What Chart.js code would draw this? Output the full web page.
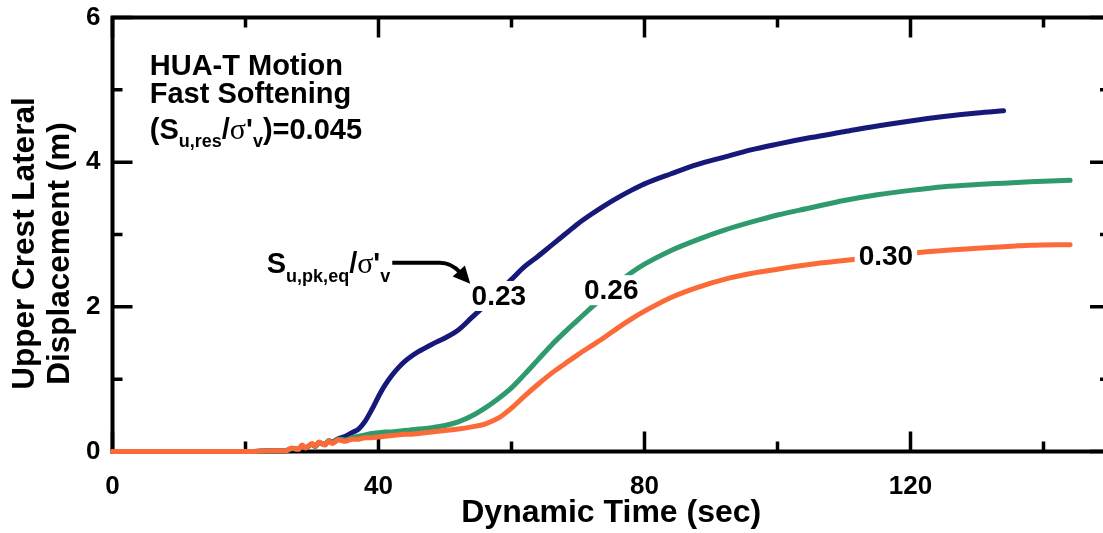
<!DOCTYPE html>
<html>
<head>
<meta charset="utf-8">
<title>Upper Crest Lateral Displacement</title>
<script src="https://cdn.jsdelivr.net/npm/chart.js@4"></script>
<style>
  body { margin: 0; background: #fff; overflow: hidden; }
  #wrap { width: 1103px; height: 533px; overflow: hidden; }
</style>
</head>
<body>
<div id="wrap"><canvas id="dispChart" width="1125" height="533"></canvas></div>
<script>
// dynamic time (sec)
const time = [0, 10, 20, 24, 26, 27, 28, 28.5, 29, 30, 30.5, 31, 32, 32.5, 33, 34, 35, 36, 37, 38,
  39, 40, 41, 42, 43, 44, 45, 46, 48, 50, 52, 54, 56, 58, 60, 62, 64, 66, 68, 70,
  72, 74, 76, 78, 80, 84, 88, 92, 96, 100, 105, 110, 115, 120, 125, 130, 134, 138, 144];

// upper crest lateral displacement (m) for each Su,pk,eq/σ'v
const disp023 = [0, 0, 0, 0.01, 0.01, 0.04, 0.03, 0.08, 0.05, 0.10, 0.07, 0.12, 0.10, 0.15, 0.13, 0.18, 0.21, 0.26, 0.31, 0.42,
  0.58, 0.76, 0.92, 1.05, 1.16, 1.25, 1.32, 1.38, 1.48, 1.57, 1.68, 1.85, 2.02, 2.20, 2.38, 2.56, 2.70, 2.85, 3.00, 3.15,
  3.28, 3.40, 3.51, 3.61, 3.70, 3.84, 3.97, 4.07, 4.17, 4.25, 4.34, 4.42, 4.50, 4.57, 4.63, 4.68, 4.71, null, null];
const disp026 = [0, 0, 0, 0.01, 0.01, 0.04, 0.03, 0.08, 0.05, 0.10, 0.07, 0.12, 0.10, 0.15, 0.12, 0.17, 0.16, 0.19, 0.21, 0.23,
  0.25, 0.26, 0.27, 0.27, 0.28, 0.29, 0.30, 0.31, 0.33, 0.36, 0.41, 0.49, 0.60, 0.73, 0.88, 1.07, 1.27, 1.47, 1.65, 1.82,
  1.99, 2.15, 2.32, 2.47, 2.59, 2.78, 2.93, 3.06, 3.17, 3.27, 3.37, 3.47, 3.55, 3.61, 3.66, 3.69, 3.71, 3.73, 3.75];
const disp030 = [0, 0, 0, 0.01, 0.01, 0.05, 0.03, 0.09, 0.05, 0.11, 0.07, 0.13, 0.09, 0.15, 0.11, 0.16, 0.14, 0.17, 0.17, 0.19,
  0.19, 0.20, 0.21, 0.22, 0.23, 0.24, 0.24, 0.25, 0.27, 0.29, 0.31, 0.34, 0.38, 0.46, 0.60, 0.77, 0.93, 1.08, 1.21, 1.34,
  1.46, 1.58, 1.71, 1.83, 1.94, 2.13, 2.27, 2.38, 2.46, 2.52, 2.59, 2.64, 2.69, 2.74, 2.78, 2.81, 2.83, 2.85, 2.86];

const seriesNames = ['0.23', '0.26', '0.30'];
const seriesValues = [disp023, disp026, disp030];
const seriesColors = ['#17197a', '#2f9a6b', '#fc6a38'];
// where each ratio label sits on its curve [time, displacement]
const seriesLabelAt = [[58.1, 2.15], [75.0, 2.23], [116.3, 2.70]];

const xMajorTicks = [0, 40, 80, 120];
const xMinorTicks = [20, 60, 100, 140];
const yMajorTicks = [0, 2, 4, 6];
const yMinorTicks = [1, 3, 5];
const yTitleLines = ['Upper Crest Lateral', 'Displacement (m)'];

const FAMILY = '"Liberation Sans", Arial, Helvetica, sans-serif';
const boldFont = size => `bold ${size}px ${FAMILY}`;
const sigmaFont = size => `${size}px "Liberation Serif", "Times New Roman", serif`;

// draw a run of text pieces side by side, some dropped as subscripts
function drawRuns(ctx, x, y, runs) {
  ctx.textBaseline = 'alphabetic';
  ctx.textAlign = 'left';
  for (const r of runs) {
    ctx.font = r.font;
    ctx.fillText(r.text, x, y + (r.dy || 0));
    x += ctx.measureText(r.text).width + (r.gap || 0);
  }
  return x;
}

const framePlugin = {
  id: 'frame',
  beforeDatasetsDraw(chart) {
    const { ctx, chartArea: a, scales: { x, y } } = chart;
    ctx.save();
    ctx.strokeStyle = '#000';
    ctx.lineWidth = 4;
    ctx.strokeRect(a.left, a.top, a.right - a.left, a.bottom - a.top);
    ctx.lineWidth = 3.5;
    ctx.beginPath();
    const xTicks = (vals, len) => vals.forEach(v => {
      const px = x.getPixelForValue(v);
      ctx.moveTo(px, a.bottom); ctx.lineTo(px, a.bottom - len);
      ctx.moveTo(px, a.top); ctx.lineTo(px, a.top + len);
    });
    const yTicks = (vals, len) => vals.forEach(v => {
      const py = y.getPixelForValue(v);
      ctx.moveTo(a.left, py); ctx.lineTo(a.left + len, py);
      ctx.moveTo(a.right, py); ctx.lineTo(a.right - len, py);
    });
    xTicks(xMajorTicks, 20); xTicks(xMinorTicks, 10);
    yTicks(yMajorTicks, 20); yTicks(yMinorTicks, 10);
    ctx.stroke();
    ctx.restore();
  }
};

const notePlugin = {
  id: 'notes',
  afterDatasetsDraw(chart) {
    const { ctx, chartArea: a, scales: { x, y } } = chart;
    const px = v => x.getPixelForValue(v);
    const py = v => y.getPixelForValue(v);
    ctx.save();
    ctx.fillStyle = '#000';

    // ratio labels break their curves
    ctx.font = boldFont(28);
    seriesNames.forEach((name, i) => {
      const cx = px(seriesLabelAt[i][0]);
      const cy = py(seriesLabelAt[i][1]);
      const w = ctx.measureText(name).width + 8;
      ctx.fillStyle = '#fff';
      ctx.fillRect(cx - w / 2, cy - 15, w, 30);
      ctx.fillStyle = '#000';
      ctx.textAlign = 'center';
      ctx.textBaseline = 'middle';
      ctx.fillText(name, cx, cy + 1);
    });

    // motion / softening note
    const left = px(5.6);
    ctx.textAlign = 'left';
    ctx.textBaseline = 'alphabetic';
    ctx.font = boldFont(29);
    ctx.fillText('HUA-T Motion', left, py(5.21));
    ctx.fillText('Fast Softening', left, py(4.82));
    drawRuns(ctx, left, py(4.32), [
      { text: '(S', font: boldFont(29) },
      { text: 'u,res', font: boldFont(18), dy: 8 },
      { text: '/', font: boldFont(29) },
      { text: 'σ', font: sigmaFont(30) },
      { text: '\'', font: boldFont(29) },
      { text: 'v', font: boldFont(18), dy: 8 },
      { text: ')=0.045', font: boldFont(29) }
    ]);

    // Su,pk,eq/σ'v label with its arrow
    const end = drawRuns(ctx, px(23.2), py(2.47), [
      { text: 'S', font: boldFont(29) },
      { text: 'u,pk,eq', font: boldFont(18), dy: 9 },
      { text: '/', font: boldFont(29) },
      { text: 'σ', font: sigmaFont(30) },
      { text: '\'', font: boldFont(29) },
      { text: 'v', font: boldFont(18), dy: 9 }
    ]);
    const ax0 = end + 2, ay0 = py(2.61);
    const ax1 = px(49.2);
    const tipX = px(53.8), tipY = py(2.32);
    ctx.strokeStyle = '#000';
    ctx.lineWidth = 4;
    ctx.beginPath();
    ctx.moveTo(ax0, ay0);
    ctx.lineTo(ax1, ay0);
    ctx.quadraticCurveTo(ax1 + 12, ay0, tipX - 10, tipY - 11);
    ctx.stroke();
    const ang = Math.atan2(11, 10);
    ctx.beginPath();
    ctx.moveTo(tipX, tipY);
    ctx.lineTo(tipX - 19 * Math.cos(ang - 0.45), tipY - 19 * Math.sin(ang - 0.45));
    ctx.lineTo(tipX - 19 * Math.cos(ang + 0.45), tipY - 19 * Math.sin(ang + 0.45));
    ctx.closePath();
    ctx.fill();

    // y axis title, two rotated lines
    ctx.font = boldFont(31.5);
    ctx.textAlign = 'center';
    ctx.textBaseline = 'alphabetic';
    const yMid = (a.top + a.bottom) / 2;
    [[34, yMid + 9], [69, yMid + 19]].forEach(([tx, ty], i) => {
      ctx.save();
      ctx.translate(tx, ty);
      ctx.rotate(-Math.PI / 2);
      ctx.fillText(yTitleLines[i], 0, 0);
      ctx.restore();
    });
    ctx.restore();
  }
};

const ctx = document.getElementById('dispChart').getContext('2d');
new Chart(ctx, {
  type: 'line',
  data: {
    datasets: seriesNames.map((name, i) => ({
      label: name,
      data: seriesValues[i].map((v, j) => ({ x: time[j], y: v })),
      borderColor: seriesColors[i],
      backgroundColor: seriesColors[i],
      borderWidth: 5,
      pointRadius: 0,
      fill: false,
      cubicInterpolationMode: 'monotone',
      borderCapStyle: 'round',
      borderJoinStyle: 'round',
      clip: 8,
      order: seriesNames.length - 1 - i
    }))
  },
  options: {
    responsive: false,
    animation: false,
    layout: { padding: { top: 17.5, right: 15, left: 0, bottom: 0 } },
    plugins: { legend: { display: false }, tooltip: { enabled: false } },
    scales: {
      x: {
        type: 'linear',
        min: 0,
        max: 150,
        grid: { display: false, drawTicks: false },
        border: { display: false },
        afterBuildTicks: s => { s.ticks = xMajorTicks.map(v => ({ value: v })); },
        afterFit: s => { s.height = 81.5; s.paddingLeft = 0; s.paddingRight = 0; },
        ticks: {
          autoSkip: false, maxRotation: 0, padding: 20, color: '#000',
          font: { family: FAMILY, size: 26, weight: 'bold' }
        },
        title: {
          display: true, text: 'Dynamic Time (sec)', color: '#000',
          font: { family: FAMILY, size: 32, weight: 'bold', lineHeight: 1.2 },
          padding: { top: 0, bottom: 1 }
        }
      },
      y: {
        min: 0,
        max: 6,
        grid: { display: false, drawTicks: false },
        border: { display: false },
        afterBuildTicks: s => { s.ticks = yMajorTicks.map(v => ({ value: v })); },
        afterFit: s => { s.width = 112.5; s.paddingTop = 0; s.paddingBottom = 0; },
        ticks: {
          autoSkip: false, padding: 12, color: '#000',
          font: { family: FAMILY, size: 26, weight: 'bold' }
        }
      }
    }
  },
  plugins: [framePlugin, notePlugin]
});
</script>
</body>
</html>
